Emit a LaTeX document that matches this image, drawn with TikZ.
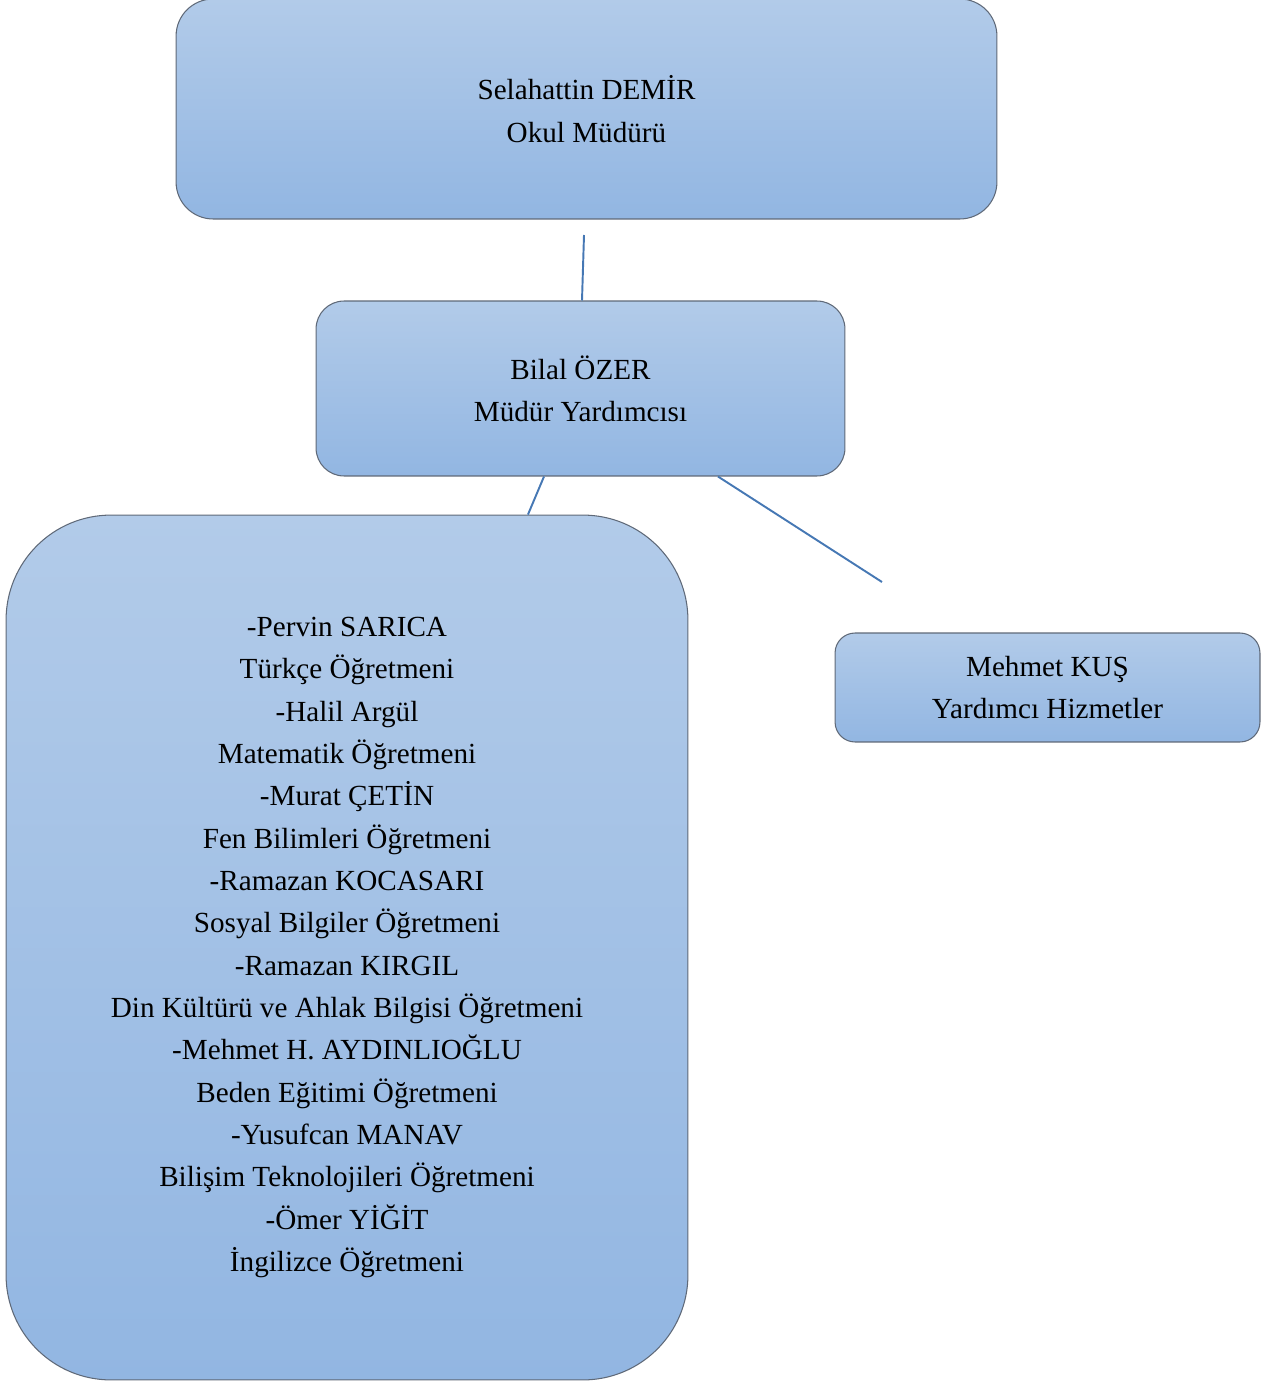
\documentclass[tikz,border=0pt]{standalone}
\usepackage{fontspec}
\setmainfont{Liberation Serif}
\usepackage{xcolor}
\usepackage{tikz}

\definecolor{boxtop}{RGB}{178,203,233}
\definecolor{boxbot}{RGB}{146,182,226}
\definecolor{boxline}{RGB}{95,105,120}
\definecolor{linkcol}{RGB}{70,120,180}

\begin{document}
\begin{tikzpicture}[x=0.02cm, y=-0.02cm,
  every node/.style={font=\fontsize{16.6}{24.1}\selectfont, align=center},
  orgbox/.style={draw=boxline, line width=0.6pt, top color=boxtop, bottom color=boxbot,
    shading angle=0, rounded corners=#1, inner sep=0pt},
  link/.style={draw=linkcol, line width=1.1pt}]
  \useasboundingbox (0,0) rectangle (1261,1382);
  \node[orgbox=0.74cm, minimum width=16.42cm, minimum height=4.4cm] (director) at (586.5,109)
    {Selahattin DEMİR\\Okul Müdürü};
  \node[orgbox=0.56cm, minimum width=10.58cm, minimum height=3.5cm] (deputy) at (580.5,388.5)
    {Bilal ÖZER\\Müdür Yardımcısı};
  \node[orgbox=2.1cm, minimum width=13.64cm, minimum height=17.3cm] (teachers) at (347,947.5)
    {-Pervin SARICA\\Türkçe Öğretmeni\\-Halil Argül\\Matematik Öğretmeni\\
     -Murat ÇETİN\\Fen Bilimleri Öğretmeni\\-Ramazan KOCASARI\\Sosyal Bilgiler Öğretmeni\\
     -Ramazan KIRGIL\\Din Kültürü ve Ahlak Bilgisi Öğretmeni\\-Mehmet H. AYDINLIOĞLU\\
     Beden Eğitimi Öğretmeni\\-Yusufcan MANAV\\Bilişim Teknolojileri Öğretmeni\\
     -Ömer YİĞİT\\İngilizce Öğretmeni};
  \node[orgbox=0.4cm, minimum width=8.5cm, minimum height=2.18cm] (support) at (1047.5,687.5)
    {Mehmet KUŞ\\Yardımcı Hizmetler};
  % links
  \coordinate (dirtail) at (584,235);
  \coordinate (supptail) at (882,582);
  \draw[link] (dirtail) -- ([xshift=0.03cm]deputy.north);
  \draw[link] ([xshift=-0.73cm]deputy.south) -- ([xshift=3.62cm]teachers.north);
  \draw[link] ([xshift=2.75cm]deputy.south) -- (supptail);
\end{tikzpicture}
\end{document}
